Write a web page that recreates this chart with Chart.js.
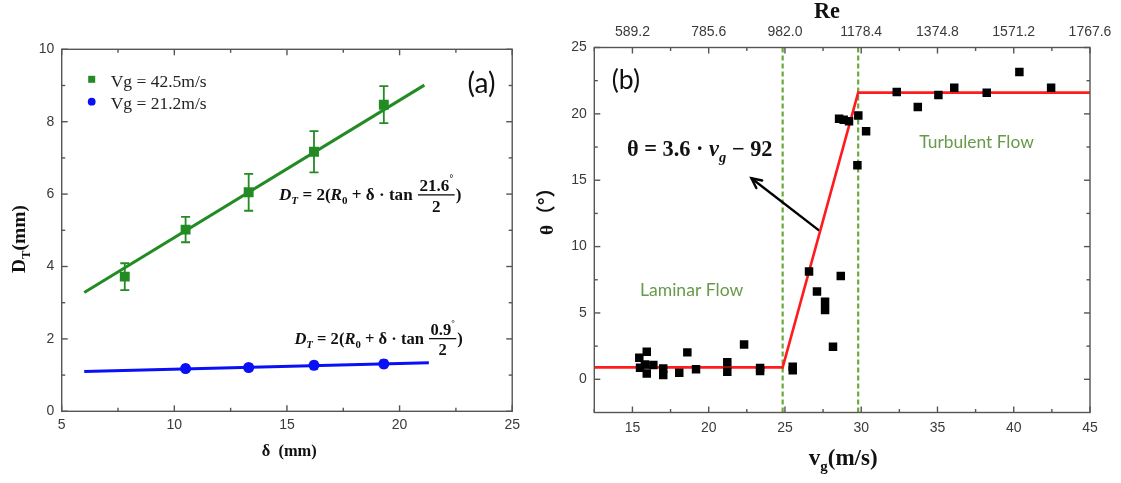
<!DOCTYPE html>
<html><head><meta charset="utf-8">
<script src="https://cdn.jsdelivr.net/npm/chart.js@4.4.1/dist/chart.umd.min.js"></script>
<style>
html,body{margin:0;padding:0;background:#fff;width:1121px;height:483px;overflow:hidden}
#a{position:absolute;left:0;top:0}
#b{position:absolute;left:525px;top:0}
</style>
</head><body>
<canvas id="a" width="525" height="483"></canvas>
<canvas id="b" width="596" height="483"></canvas>
<script>
// ---------------- Panel (a) data ----------------
const deltaHigh = [7.8, 10.5, 13.3, 16.2, 19.3];
const dtHigh = [3.72, 5.02, 6.05, 7.17, 8.47];
const dtHighErr = [0.37, 0.35, 0.51, 0.57, 0.51];
const deltaLow = [10.5, 13.3, 16.2, 19.3];
const dtLow = [1.18, 1.21, 1.27, 1.31];
const dtLowErr = [0.1, 0.1, 0.1, 0.1];
const fitHighDelta = [6.0, 21.1];
const fitHighDt = [3.28, 9.01];
const fitLowDelta = [6.0, 21.3];
const fitLowDt = [1.10, 1.34];
const xRangeA = [5, 25];
const yRangeA = [0, 10];
const xTicksA = [5, 10, 15, 20, 25];
const yTicksA = [0, 2, 4, 6, 8, 10];
const legendA = ['Vg = 42.5m/s', 'Vg = 21.2m/s'];

// ---------------- Panel (b) data ----------------
const vgPts = [15.45, 15.94, 15.82, 15.5, 15.94, 16.37, 17.02, 17.02, 18.07, 18.6, 19.17, 21.22, 21.22, 22.32, 23.37, 23.37, 25.51, 25.51, 26.58, 27.1, 27.63, 27.63, 28.15, 28.66, 28.55, 28.85, 29.2, 29.81, 29.75, 30.32, 32.33, 33.71, 35.06, 36.1, 38.23, 40.37, 42.45];
const thetaPts = [1.62, 2.08, 1.12, 0.87, 0.44, 1.07, 0.82, 0.32, 0.49, 2.03, 0.75, 1.28, 0.57, 2.63, 0.62, 0.85, 0.69, 0.95, 8.12, 6.61, 5.85, 5.23, 2.46, 7.79, 19.63, 19.55, 19.45, 19.88, 16.13, 18.69, 21.64, 20.51, 21.42, 21.97, 21.59, 23.15, 21.97];
const modelVg = [12.5, 24.85, 29.8, 45];
const modelTheta = [0.9, 0.9, 21.6, 21.6];
const boundaryVg = [24.85, 29.8];
const arrowVg = [27.25, 22.8];
const arrowTheta = [11.2, 15.15];
const xRangeB = [12.5, 45];
const yRangeB = [-2.5, 25];
const xTicksB = [15, 20, 25, 30, 35, 40, 45];
const yTicksB = [0, 5, 10, 15, 20, 25];
const reTicks = [589.2, 785.6, 982.0, 1178.4, 1374.8, 1571.2, 1767.6];

// ---------------- styles ----------------
const GREEN = '#238b23';
const BLUE = '#0a10f5';
const RED = '#ff1c1c';
const LGREEN = '#6aaa3c';
const TXTGREEN = '#679a4a';
const FRAME = '#555555';
const TICKFONT = {family: '"Liberation Sans", Arial, sans-serif', size: 14};
const SERIF = '"Liberation Serif", "DejaVu Serif", serif';

function pts(xs, ys) { return xs.map((x, i) => ({x: x, y: ys[i]})); }
function midpoints(arr) { const m = []; for (let i = 0; i < arr.length - 1; i++) m.push((arr[i] + arr[i + 1]) / 2); return m; }

// ---------- rich text helpers ----------
function fontStr(p, size) { return (p.it ? 'italic ' : '') + 'bold ' + size + 'px ' + SERIF; }
function partWidth(ctx, p, size) {
  if (p.frac) {
    ctx.font = fontStr({}, size);
    let wn = ctx.measureText(p.frac.num).width;
    if (p.frac.sup) { ctx.font = fontStr({}, size * 0.55); wn += ctx.measureText(p.frac.sup).width; }
    ctx.font = fontStr({}, size);
    const wd = ctx.measureText(p.frac.den).width;
    return Math.max(wn, wd) + size * 0.3;
  }
  const s = (p.sub || p.sup) ? size * 0.65 : size;
  ctx.font = (p.cjk ? 'bold ' + s + 'px "Noto Sans CJK SC", ' + SERIF : fontStr(p, s));
  return ctx.measureText(p.t).width;
}
function richWidth(ctx, parts, size) { let w = 0; for (const p of parts) w += partWidth(ctx, p, size); return w; }
function drawRich(ctx, parts, x, y, size) {
  let cx = x;
  ctx.textBaseline = 'alphabetic';
  ctx.textAlign = 'left';
  for (const p of parts) {
    const w = partWidth(ctx, p, size);
    if (p.frac) {
      const bar = y - 0.3 * size;
      ctx.font = fontStr({}, size);
      const wn0 = ctx.measureText(p.frac.num).width;
      ctx.font = fontStr({}, size * 0.55);
      const ws = p.frac.sup ? ctx.measureText(p.frac.sup).width : 0;
      const nx = cx + (w - wn0 - ws) / 2;
      ctx.font = fontStr({}, size);
      ctx.fillText(p.frac.num, nx, bar - 0.2 * size);
      if (p.frac.sup) { ctx.font = fontStr({}, size * 0.55); ctx.fillText(p.frac.sup, nx + wn0, bar - 0.75 * size); }
      ctx.font = fontStr({}, size);
      const wd = ctx.measureText(p.frac.den).width;
      ctx.fillText(p.frac.den, cx + (w - wd) / 2, bar + 1.0 * size);
      ctx.fillRect(cx + 1, bar - 0.65, w - 2, 1.3);
    } else {
      const s = (p.sub || p.sup) ? size * 0.65 : size;
      ctx.font = (p.cjk ? 'bold ' + s + 'px "Noto Sans CJK SC", ' + SERIF : fontStr(p, s));
      const dy = p.sub ? 0.25 * size : (p.sup ? -0.4 * size : 0);
      ctx.fillText(p.t, cx, y + dy);
    }
    cx += w;
  }
}
function drawRichFit(ctx, parts, x, y, targetW, color) {
  const size = 100 * targetW / richWidth(ctx, parts, 100);
  ctx.fillStyle = color || '#111';
  drawRich(ctx, parts, x, y, size);
}
function drawRichRot(ctx, parts, x, y, targetW, color) {
  ctx.save();
  ctx.translate(x, y);
  ctx.rotate(-Math.PI / 2);
  drawRichFit(ctx, parts, 0, 0, targetW, color);
  ctx.restore();
}
function drawPlainFit(ctx, text, family, weight, x, y, targetW, color, baseline) {
  ctx.font = weight + ' 100px ' + family;
  const size = 100 * targetW / ctx.measureText(text).width;
  ctx.font = weight + ' ' + size + 'px ' + family;
  ctx.fillStyle = color;
  ctx.textAlign = 'left';
  ctx.textBaseline = baseline || 'alphabetic';
  ctx.fillText(text, x, y);
}

// ---------- plugins ----------
const framePlugin = {
  id: 'frame',
  afterDraw(chart, args, opts) {
    const ctx = chart.ctx, a = chart.chartArea;
    const xs = chart.scales.x, ys = chart.scales.y;
    ctx.save();
    ctx.strokeStyle = FRAME;
    ctx.lineWidth = 1.4;
    const tick = (v, len, scale, horiz) => {
      if (horiz) {
        const p = scale.getPixelForValue(v);
        if (p < a.left - 0.5 || p > a.right + 0.5) return;
        ctx.beginPath(); ctx.moveTo(p, a.bottom); ctx.lineTo(p, a.bottom - len); ctx.stroke();
        ctx.beginPath(); ctx.moveTo(p, a.top); ctx.lineTo(p, a.top + len); ctx.stroke();
      } else {
        const p = scale.getPixelForValue(v);
        if (p < a.top - 0.5 || p > a.bottom + 0.5) return;
        ctx.beginPath(); ctx.moveTo(a.left, p); ctx.lineTo(a.left + len, p); ctx.stroke();
        ctx.beginPath(); ctx.moveTo(a.right, p); ctx.lineTo(a.right - len, p); ctx.stroke();
      }
    };
    opts.xMajor.forEach(v => tick(v, 6, xs, true));
    opts.xMinor.forEach(v => tick(v, 3.5, xs, true));
    opts.yMajor.forEach(v => tick(v, 6, ys, false));
    opts.yMinor.forEach(v => tick(v, 3.5, ys, false));
    ctx.strokeRect(a.left, a.top, a.right - a.left, a.bottom - a.top);
    ctx.restore();
  }
};
const errorPlugin = {
  id: 'errbars',
  beforeDatasetsDraw(chart) {
    const ctx = chart.ctx, xs = chart.scales.x, ys = chart.scales.y;
    chart.data.datasets.forEach(ds => {
      if (!ds.errorBars) return;
      ctx.save();
      ctx.strokeStyle = ds.backgroundColor;
      ctx.lineWidth = 1.8;
      ds.data.forEach((d, i) => {
        const e = ds.errorBars[i];
        const px = xs.getPixelForValue(d.x);
        const top = ys.getPixelForValue(d.y + e), bot = ys.getPixelForValue(d.y - e);
        const cw = ds.capWidth;
        ctx.beginPath();
        ctx.moveTo(px, top); ctx.lineTo(px, bot);
        ctx.moveTo(px - cw, top); ctx.lineTo(px + cw, top);
        ctx.moveTo(px - cw, bot); ctx.lineTo(px + cw, bot);
        ctx.stroke();
      });
      ctx.restore();
    });
  }
};
const arrowPlugin = {
  id: 'arrowhead',
  afterDatasetsDraw(chart) {
    const ctx = chart.ctx;
    chart.data.datasets.forEach((ds, i) => {
      if (!ds.arrowHead) return;
      const meta = chart.getDatasetMeta(i);
      const n = meta.data.length;
      const p1 = meta.data[n - 2], p2 = meta.data[n - 1];
      const ang = Math.atan2(p2.y - p1.y, p2.x - p1.x);
      const L = 11, w = 0.45;
      ctx.save();
      ctx.strokeStyle = ds.borderColor;
      ctx.lineWidth = ds.borderWidth;
      ctx.lineCap = 'round';
      ctx.beginPath();
      ctx.moveTo(p2.x - L * Math.cos(ang - w), p2.y - L * Math.sin(ang - w));
      ctx.lineTo(p2.x, p2.y);
      ctx.lineTo(p2.x - L * Math.cos(ang + w), p2.y - L * Math.sin(ang + w));
      ctx.stroke();
      ctx.restore();
    });
  }
};
const textPlugin = {
  id: 'texts',
  afterDraw(chart, args, opts) { opts.draw(chart.ctx, chart); }
};

function baseScale(extra) {
  return Object.assign({
    type: 'linear',
    grid: {display: false, drawTicks: false},
    border: {display: false},
    ticks: {font: TICKFONT, color: '#3a3a3a', maxRotation: 0, autoSkip: false}
  }, extra);
}

// ---------------- Chart (a) ----------------
new Chart(document.getElementById('a'), {
  type: 'scatter',
  data: {datasets: [
    {data: pts(deltaHigh, dtHigh), errorBars: dtHighErr, capWidth: 4.5, pointStyle: 'rect', pointRadius: 7, pointBorderWidth: 0, backgroundColor: GREEN, borderColor: GREEN, order: 0},
    {data: pts(deltaLow, dtLow), errorBars: dtLowErr, capWidth: 3.5, pointStyle: 'circle', pointRadius: 5.5, pointBorderWidth: 0, backgroundColor: BLUE, borderColor: BLUE, order: 0},
    {data: pts(fitHighDelta, fitHighDt), showLine: true, borderColor: GREEN, borderWidth: 3, pointRadius: 0, order: 1},
    {data: pts(fitLowDelta, fitLowDt), showLine: true, borderColor: BLUE, borderWidth: 3, pointRadius: 0, order: 1}
  ]},
  options: {
    responsive: false, animation: false, devicePixelRatio: 1,
    layout: {autoPadding: false, padding: {left: 0, right: 8.3, top: 49.3, bottom: 0}},
    plugins: {
      legend: {display: false}, tooltip: {enabled: false},
      frame: {xMajor: xTicksA, xMinor: midpoints(xTicksA), yMajor: yTicksA, yMinor: midpoints(yTicksA)},
      texts: {draw(ctx) {
        ctx.save();
        // legend
        ctx.fillStyle = GREEN; ctx.fillRect(88.2, 75.8, 7, 7);
        ctx.fillStyle = BLUE; ctx.beginPath(); ctx.arc(91.7, 101.7, 3.9, 0, Math.PI * 2); ctx.fill();
        drawPlainFit(ctx, legendA[0], SERIF, 'normal', 110.7, 86.7, 96, '#222');
        drawPlainFit(ctx, legendA[1], SERIF, 'normal', 110.7, 108.7, 96, '#222');
        // panel label
        drawPlainFit(ctx, '(a)', 'Lato, "Open Sans", sans-serif', 'normal', 467.5, 83.5, 28, '#111', 'middle');
        // equations
        drawRichFit(ctx, [{t: 'D', it: true}, {t: 'T', it: true, sub: true}, {t: ' = 2('}, {t: 'R', it: true}, {t: '0', sub: true}, {t: ' + δ · tan '}, {frac: {num: '21.6', sup: '°', den: '2'}}, {t: ')'}], 279, 200, 182.6);
        drawRichFit(ctx, [{t: 'D', it: true}, {t: 'T', it: true, sub: true}, {t: ' = 2('}, {t: 'R', it: true}, {t: '0', sub: true}, {t: ' + δ · tan '}, {frac: {num: '0.9', sup: '°', den: '2'}}, {t: ')'}], 294.4, 343.6, 168.6);
        // axis titles
        drawRichFit(ctx, [{t: 'δ  (mm)'}], 261.7, 456, 55);
        drawRichRot(ctx, [{t: 'D'}, {t: 'T', sub: true}, {t: '(mm)'}], 25, 273, 68);
        ctx.restore();
      }}
    },
    scales: {
      x: baseScale({position: 'bottom', min: xRangeA[0], max: xRangeA[1],
        afterBuildTicks: s => { s.ticks = xTicksA.map(v => ({value: v})); },
        afterFit: s => { s.height = 71.7; },
        ticks: {font: TICKFONT, color: '#3a3a3a', maxRotation: 0, autoSkip: false, padding: 5}}),
      y: baseScale({position: 'left', min: yRangeA[0], max: yRangeA[1],
        afterBuildTicks: s => { s.ticks = yTicksA.map(v => ({value: v})); },
        afterFit: s => { s.width = 61.7; },
        ticks: {font: TICKFONT, color: '#3a3a3a', autoSkip: false, padding: 7.4}})
    }
  },
  plugins: [errorPlugin, framePlugin, textPlugin]
});

// ---------------- Chart (b) ----------------
const reRatio = reTicks[0] / xTicksB[0];
const OX = 525;
new Chart(document.getElementById('b'), {
  type: 'scatter',
  data: {datasets: [
    {data: pts(vgPts, thetaPts), pointStyle: 'rect', pointRadius: 6, pointBorderWidth: 0, backgroundColor: '#000', borderColor: '#000', order: 0},
    {data: pts(modelVg, modelTheta), showLine: true, borderColor: RED, borderWidth: 2.6, pointRadius: 0, order: 1},
    {data: pts(arrowVg, arrowTheta), showLine: true, borderColor: '#000', borderWidth: 2.4, pointRadius: 0, arrowHead: true, order: 1},
    {data: pts([boundaryVg[0], boundaryVg[0]], yRangeB), showLine: true, borderColor: LGREEN, borderWidth: 2.2, borderDash: [5, 3], pointRadius: 0, order: 2},
    {data: pts([boundaryVg[1], boundaryVg[1]], yRangeB), showLine: true, borderColor: LGREEN, borderWidth: 2.2, borderDash: [5, 3], pointRadius: 0, order: 2}
  ]},
  options: {
    responsive: false, animation: false, devicePixelRatio: 1,
    layout: {autoPadding: false, padding: {left: 0, right: 31, top: 0, bottom: 0}},
    plugins: {
      legend: {display: false}, tooltip: {enabled: false},
      frame: {xMajor: xTicksB, xMinor: [xRangeB[0]].concat(midpoints(xTicksB)), yMajor: yTicksB, yMinor: midpoints(yTicksB)},
      texts: {draw(ctx) {
        ctx.save();
        drawPlainFit(ctx, '(b)', 'Lato, "Open Sans", sans-serif', 'normal', 611.7 - OX, 80, 28.3, '#111', 'middle');
        drawPlainFit(ctx, 'Turbulent Flow', 'Lato, "Open Sans", sans-serif', 'normal', 919.3 - OX, 147.5, 114.7, TXTGREEN);
        drawPlainFit(ctx, 'Laminar Flow', 'Lato, "Open Sans", sans-serif', 'normal', 640 - OX, 296.3, 103.4, TXTGREEN);
        drawRichFit(ctx, [{t: 'θ = 3.6 · '}, {t: 'v', it: true}, {t: 'g', it: true, sub: true}, {t: ' − 92'}], 627 - OX, 156, 145.6);
        drawRichFit(ctx, [{t: 'Re'}], 814 - OX, 18, 26);
        drawRichFit(ctx, [{t: 'v'}, {t: 'g', sub: true}, {t: '(m/s)'}], 808.7 - OX, 465, 69);
        drawRichRot(ctx, [{t: 'θ'}, {t: '（°）', cjk: true}], 553 - OX, 235, 57);
        ctx.restore();
      }}
    },
    scales: {
      x: baseScale({position: 'bottom', min: xRangeB[0], max: xRangeB[1],
        afterBuildTicks: s => { s.ticks = xTicksB.map(v => ({value: v})); },
        afterFit: s => { s.height = 70.5; },
        ticks: {font: TICKFONT, color: '#3a3a3a', maxRotation: 0, autoSkip: false, padding: 7.4}}),
      x2: baseScale({position: 'top', axis: 'x', min: xRangeB[0] * reRatio, max: xRangeB[1] * reRatio,
        afterBuildTicks: s => { s.ticks = reTicks.map(v => ({value: v})); },
        afterFit: s => { s.height = 47.5; },
        ticks: {font: TICKFONT, color: '#3a3a3a', maxRotation: 0, autoSkip: false, padding: 7.4, callback: v => v.toFixed(1)}}),
      y: baseScale({position: 'left', min: yRangeB[0], max: yRangeB[1],
        afterBuildTicks: s => { s.ticks = yTicksB.map(v => ({value: v})); },
        afterFit: s => { s.width = 69.3; },
        ticks: {font: TICKFONT, color: '#3a3a3a', autoSkip: false, padding: 7.6}})
    }
  },
  plugins: [framePlugin, arrowPlugin, textPlugin]
});
</script>
</body></html>
